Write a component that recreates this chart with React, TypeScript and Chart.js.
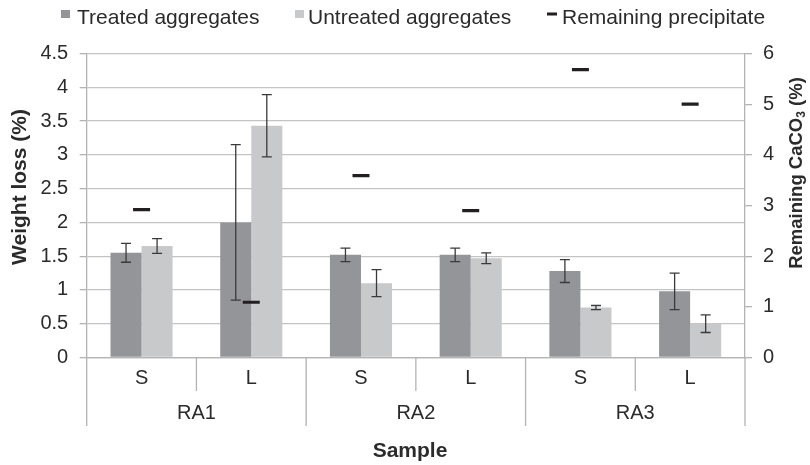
import React, { useEffect, useRef } from 'react';
import { Chart, registerables } from 'chart.js';

Chart.register(...registerables);

// ---- data ----
const subCategories = ['S', 'L', 'S', 'L', 'S', 'L'];
const groupLabels = ['RA1', 'RA2', 'RA3'];
const treated = [1.55, 2.0, 1.52, 1.52, 1.28, 0.98];
const treatedErr = [0.14, 1.15, 0.1, 0.1, 0.17, 0.27];
const untreated = [1.65, 3.43, 1.1, 1.47, 0.74, 0.5];
const untreatedErr = [0.11, 0.46, 0.2, 0.08, 0.03, 0.13];
const remaining = [2.92, 1.09, 3.59, 2.9, 5.68, 5.0];
const leftAxisMax = 4.5;
const leftAxisStep = 0.5;
const rightAxisMax = 6;
const rightAxisStep = 1;
const seriesNames = ['Treated aggregates', 'Untreated aggregates', 'Remaining precipitate'];

const FONT = '"Liberation Sans", Arial, sans-serif';
const TREATED_COLOR = '#939598';
const UNTREATED_COLOR = '#c8c9cb';
const MARK_COLOR = '#231f20';
const TEXT_COLOR = '#2b2b2b';
const AXIS_COLOR = '#b3b3b3';
const GRID_COLOR = '#c4c4c4';

const fmt = (v: any) => `${Math.round(Number(v) * 100) / 100}`;

const errorBarPlugin = {
  id: 'errorBars',
  afterDatasetsDraw(chart: any) {
    const ctx = chart.ctx;
    const y = chart.scales.y;
    const sets: [number, number[]][] = [
      [0, treatedErr],
      [1, untreatedErr],
    ];
    ctx.save();
    ctx.strokeStyle = '#3a3a3a';
    ctx.lineWidth = 1.3;
    sets.forEach(([di, errs]) => {
      const meta = chart.getDatasetMeta(di);
      const vals = chart.data.datasets[di].data as number[];
      meta.data.forEach((bar: any, i: number) => {
        const v = vals[i];
        const t = y.getPixelForValue(v + errs[i]);
        const b = y.getPixelForValue(v - errs[i]);
        const x = bar.x;
        ctx.beginPath();
        ctx.moveTo(x, t);
        ctx.lineTo(x, b);
        ctx.moveTo(x - 5, t);
        ctx.lineTo(x + 5, t);
        ctx.moveTo(x - 5, b);
        ctx.lineTo(x + 5, b);
        ctx.stroke();
      });
    });
    ctx.restore();
  },
};

const decorPlugin = {
  id: 'decor',
  afterDraw(chart: any) {
    const ctx = chart.ctx;
    const x = chart.scales.x;
    const area = chart.chartArea;
    ctx.save();

    // category separators below the axis
    ctx.strokeStyle = AXIS_COLOR;
    ctx.lineWidth = 1.3;
    const n = subCategories.length;
    const step = (area.right - area.left) / n;
    for (let i = 0; i <= n; i++) {
      const px = area.left + step * i;
      const isGroup = i % 2 === 0;
      ctx.beginPath();
      ctx.moveTo(px, area.bottom);
      ctx.lineTo(px, isGroup ? 426 : 391);
      ctx.stroke();
    }

    // group labels
    ctx.fillStyle = TEXT_COLOR;
    ctx.font = `20px ${FONT}`;
    ctx.textAlign = 'center';
    ctx.textBaseline = 'middle';
    groupLabels.forEach((g, gi) => {
      const c = (x.getPixelForValue(gi * 2) + x.getPixelForValue(gi * 2 + 1)) / 2;
      ctx.fillText(g, c, 413);
    });

    // x title
    ctx.font = `bold 21px ${FONT}`;
    ctx.fillText('Sample', 410, 451);

    // left title
    ctx.save();
    ctx.translate(20, 187);
    ctx.rotate(-Math.PI / 2);
    ctx.fillText('Weight loss (%)', 0, 0);
    ctx.restore();

    // right title with subscript
    ctx.save();
    ctx.translate(797, 173);
    ctx.rotate(-Math.PI / 2);
    const mainFont = `bold 18.5px ${FONT}`;
    const subFont = `bold 12px ${FONT}`;
    const p1 = 'Remaining CaCO';
    const p2 = '3';
    const p3 = ' (%)';
    ctx.font = mainFont;
    const w1 = ctx.measureText(p1).width;
    const w3 = ctx.measureText(p3).width;
    ctx.font = subFont;
    const w2 = ctx.measureText(p2).width;
    const total = w1 + w2 + w3;
    let cx = -total / 2;
    ctx.textAlign = 'left';
    ctx.font = mainFont;
    ctx.fillText(p1, cx, 0);
    cx += w1;
    ctx.font = subFont;
    ctx.fillText(p2, cx, 5);
    cx += w2;
    ctx.font = mainFont;
    ctx.fillText(p3, cx, 0);
    ctx.restore();

    // legend
    ctx.font = `21px ${FONT}`;
    ctx.textAlign = 'left';
    ctx.textBaseline = 'alphabetic';
    ctx.fillStyle = TREATED_COLOR;
    ctx.fillRect(61, 10, 9, 8);
    ctx.fillStyle = TEXT_COLOR;
    ctx.fillText(seriesNames[0], 77, 24);
    ctx.fillStyle = UNTREATED_COLOR;
    ctx.fillRect(295, 10, 9, 8);
    ctx.fillStyle = TEXT_COLOR;
    ctx.fillText(seriesNames[1], 308, 24);
    ctx.fillStyle = MARK_COLOR;
    ctx.fillRect(547, 12.5, 10, 3);
    ctx.fillStyle = TEXT_COLOR;
    ctx.fillText(seriesNames[2], 562, 24);

    ctx.restore();
  },
};

export default function App() {
  const ref = useRef<HTMLCanvasElement>(null);
  useEffect(() => {
    if (!ref.current) return;
    Chart.defaults.font.family = FONT;
    const chart = new Chart(ref.current, {
      type: 'bar',
      data: {
        labels: subCategories,
        datasets: [
          {
            label: seriesNames[0],
            data: treated,
            backgroundColor: TREATED_COLOR,
            yAxisID: 'y',
            order: 1,
            categoryPercentage: 0.566,
            barPercentage: 1.0,
          } as any,
          {
            label: seriesNames[1],
            data: untreated,
            backgroundColor: UNTREATED_COLOR,
            yAxisID: 'y',
            order: 1,
            categoryPercentage: 0.566,
            barPercentage: 1.0,
          } as any,
          {
            type: 'line',
            label: seriesNames[2],
            data: remaining,
            yAxisID: 'y1',
            showLine: false,
            pointStyle: 'line',
            pointRadius: 8.5,
            pointHoverRadius: 8.5,
            pointBorderWidth: 3.2,
            borderColor: MARK_COLOR,
            backgroundColor: MARK_COLOR,
            order: 0,
          } as any,
        ],
      },
      options: {
        animation: false,
        responsive: false,
        maintainAspectRatio: false,
        layout: { padding: { top: 53.5, left: 0, right: 0, bottom: 0 } },
        plugins: {
          legend: { display: false },
          tooltip: { enabled: false },
        },
        scales: {
          x: {
            type: 'category',
            offset: true,
            grid: { display: false, drawTicks: false },
            border: { display: true, color: AXIS_COLOR, width: 1.3 },
            ticks: { font: { size: 20, family: FONT }, color: TEXT_COLOR, padding: 8.5, maxRotation: 0 },
            afterFit: (s: any) => {
              s.height = 107.5;
            },
          },
          y: {
            position: 'left',
            min: 0,
            max: leftAxisMax,
            ticks: {
              stepSize: leftAxisStep,
              font: { size: 20, family: FONT },
              color: TEXT_COLOR,
              padding: 11.5,
              callback: fmt,
            },
            grid: { color: GRID_COLOR, lineWidth: 1.3, tickLength: 7, tickColor: AXIS_COLOR },
            border: { display: true, color: AXIS_COLOR, width: 1.3 },
            afterFit: (s: any) => {
              s.width = 86.7;
            },
          },
          y1: {
            position: 'right',
            min: 0,
            max: rightAxisMax,
            ticks: {
              stepSize: rightAxisStep,
              font: { size: 20, family: FONT },
              color: TEXT_COLOR,
              padding: 11,
              callback: fmt,
            },
            grid: { drawOnChartArea: false, tickLength: 7, color: AXIS_COLOR, lineWidth: 1.3 },
            border: { display: true, color: AXIS_COLOR, width: 1.3 },
            afterFit: (s: any) => {
              s.width = 65;
            },
          },
        },
      } as any,
      plugins: [errorBarPlugin, decorPlugin],
    });
    return () => chart.destroy();
  }, []);
  return (
    <div style={{ position: 'absolute', left: 0, top: 0, width: 810, height: 465, background: '#fff' }}>
      <canvas ref={ref} width={810} height={465} style={{ width: 810, height: 465, display: 'block' }} />
    </div>
  );
}
